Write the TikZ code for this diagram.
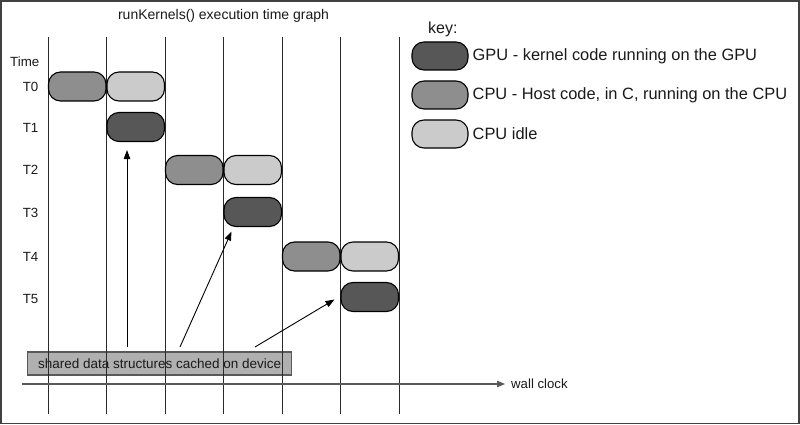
\documentclass[tikz,border=0pt]{standalone}
\usepackage{fontspec}
\setmainfont{Liberation Sans}
\usetikzlibrary{arrows.meta}
\definecolor{gpuc}{HTML}{575757}
\definecolor{cpuc}{HTML}{8E8E8E}
\definecolor{idlec}{HTML}{CBCBCB}
\definecolor{sharedc}{HTML}{B0B0B0}
\definecolor{txtc}{HTML}{1A1A1A}
\definecolor{linec}{HTML}{2A2A2A}
\tikzset{
  seg/.style={draw=black, line width=1.1pt, rounded corners=12pt, minimum width=57.5pt, minimum height=29pt, inner sep=0pt},
  gpu/.style={seg, fill=gpuc},
  cpu/.style={seg, fill=cpuc},
  idle/.style={seg, fill=idlec},
  keybox/.style={seg, minimum width=56pt, minimum height=28pt},
  tlabel/.style={anchor=east, inner sep=0pt, text=txtc, font=\fontsize{13.3}{15}\selectfont},
  keylabel/.style={anchor=west, inner sep=0pt, text=txtc, font=\fontsize{16.4}{19}\selectfont},
  colline/.style={draw=linec, line width=1pt},
  ptr/.style={draw=black, line width=0.9pt, -{Triangle[length=9pt,width=6.5pt]}},
  axisline/.style={draw=black!65, line width=1.1pt, -{Triangle[length=8pt,width=6.5pt]}}
}
\begin{document}
\begin{tikzpicture}[x=1pt,y=-1pt]
\useasboundingbox (0,0) rectangle (800,425);
\fill[white] (0,0) rectangle (800,425);
\draw[draw=black!75, line width=1.6pt] (1,1) rectangle (799,423.5);

% title
\node[inner sep=0pt, text=txtc, font=\fontsize{14}{16}\selectfont] (title) at (223.5,16) {runKernels() execution time graph};

% shared data box (under the column lines)
\node[draw=black!65, line width=1.5pt, fill=sharedc, minimum width=264pt, minimum height=23pt, inner sep=0pt, text=txtc, font=\fontsize{13.5}{16}\selectfont] (shared) at (159.7,363.5) {shared data structures cached on device};

% column lines
\foreach \i/\x in {0/48,1/106.5,2/165,3/223.5,4/282,5/340.5,6/399}{
  \coordinate (c\i t) at (\x,37);
  \coordinate (c\i b) at (\x,414);
  \draw[colline] (c\i t) -- (c\i b);
}

% wall clock axis
\coordinate (ax0) at (22,384);
\coordinate (ax1) at (505,384);
\draw[axisline] (ax0) -- (ax1);
\node[anchor=west, inner sep=0pt, text=txtc, font=\fontsize{13.2}{15}\selectfont] (wc) at (511,383.5) {wall clock};

% time labels
\node[tlabel] (time) at (39.5,62) {Time};
\node[tlabel] (t0) at (38.5,86.5) {T0};
\node[tlabel] (t1) at (38.5,128) {T1};
\node[tlabel] (t2) at (38.5,170) {T2};
\node[tlabel] (t3) at (38.5,213) {T3};
\node[tlabel] (t4) at (38.5,256.5) {T4};
\node[tlabel] (t5) at (38.5,298.5) {T5};

% execution segments
\node[cpu]  (cpu0)  at (77.25,86.5) {};
\node[idle] (idle0) at (135.75,86.5) {};
\node[gpu]  (gpu1)  at (135.75,127) {};
\node[cpu]  (cpu2)  at (194.25,170) {};
\node[idle] (idle2) at (252.75,170) {};
\node[gpu]  (gpu3)  at (252.75,212) {};
\node[cpu]  (cpu4)  at (311.25,256.5) {};
\node[idle] (idle4) at (369.75,256.5) {};
\node[gpu]  (gpu5)  at (369.75,297) {};

% pointers from shared data
\coordinate (a1s) at (127,347);
\coordinate (a1e) at (127,150);
\coordinate (a2s) at (180,347);
\coordinate (a2e) at (231.5,231.5);
\coordinate (a3s) at (255,347);
\coordinate (a3e) at (334.5,299.5);
\draw[ptr] (a1s) -- (a1e);
\draw[ptr] (a2s) -- (a2e);
\draw[ptr] (a3s) -- (a3e);

% key
\node[anchor=west, inner sep=0pt, text=txtc, font=\fontsize{16}{19}\selectfont] (key) at (428,29) {key:};
\node[keybox, fill=gpuc]  (kgpu)  at (440,56) {};
\node[keybox, fill=cpuc]  (kcpu)  at (440,95) {};
\node[keybox, fill=idlec] (kidle) at (440,134) {};
\node[keylabel] (lgpu)  at (472.5,56) {GPU - kernel code running on the GPU};
\node[keylabel] (lcpu)  at (472.5,95) {CPU - Host code, in C, running on the CPU};
\node[keylabel] (lidle) at (472.5,134) {CPU idle};
\end{tikzpicture}
\end{document}
